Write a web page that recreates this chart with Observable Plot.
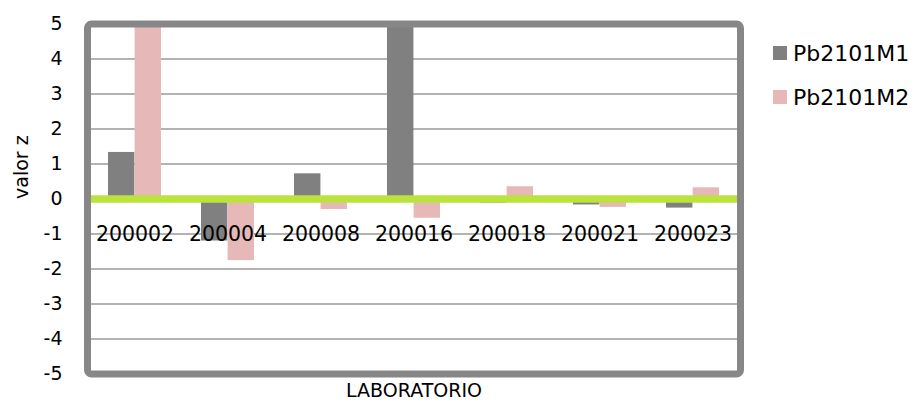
<!DOCTYPE html>
<html>
<head>
<meta charset="utf-8">
<script src="https://cdn.jsdelivr.net/npm/d3@7"></script>
<script src="https://cdn.jsdelivr.net/npm/@observablehq/plot@0.6"></script>
<style>
  html, body { margin: 0; padding: 0; background: #fff; }
  #wrap { position: relative; width: 914px; height: 402px; font-family: "DejaVu Sans", sans-serif; }
  #legend { position: absolute; left: 773px; top: 42px; font-size: 22px; color: #000; }
  #legend .row { display: flex; align-items: center; height: 22px; margin-bottom: 22px; }
  #legend .sw { width: 14px; height: 14px; margin-right: 6px; }
</style>
</head>
<body>
<div id="wrap">
  <div id="chart"></div>
  <div id="legend"></div>
</div>
<script>
const categories = ["200002", "200004", "200008", "200016", "200018", "200021", "200023"];
const seriesNames = ["Pb2101M1", "Pb2101M2"];
const m1Values = [1.33, -1.2, 0.72, 5, -0.12, -0.17, -0.26];
const m2Values = [5, -1.76, -0.3, -0.55, 0.35, -0.24, 0.32];
const yTicks = [-5, -4, -3, -2, -1, 0, 1, 2, 3, 4, 5];
const gridTicks = [-4, -3, -2, -1, 1, 2, 3, 4];
const categoryLabelY = -1;
const colors = ["#808080", "#e6b9b8"];

const m1 = categories.map((c, i) => ({cat: c, value: m1Values[i]}));
const m2 = categories.map((c, i) => ({cat: c, value: m2Values[i]}));

const W = 914, H = 402;
const mLeft = 87, mRight = 174, mTop = 23.5, mBottom = 28.5;
const pad = 0.43;
const step = (W - mLeft - mRight) / categories.length;
const band = step * (1 - pad);

const chart = Plot.plot({
  width: W,
  height: H,
  marginLeft: mLeft,
  marginRight: mRight,
  marginTop: mTop,
  marginBottom: mBottom,
  style: {fontFamily: "DejaVu Sans, sans-serif", color: "#000", background: "#fff", overflow: "visible"},
  x: {domain: categories, paddingInner: pad, paddingOuter: pad / 2, axis: null},
  y: {domain: [-5, 5], axis: null},
  marks: [
    Plot.gridY(gridTicks, {stroke: "#b3b3b3", strokeOpacity: 1, strokeWidth: 2}),
    Plot.barY(m1, {x: "cat", y: "value", fill: colors[0], insetRight: band / 2, insetLeft: 0, clip: true}),
    Plot.barY(m2, {x: "cat", y: "value", fill: colors[1], insetLeft: band / 2, insetRight: 0, clip: true}),
    Plot.ruleY([0], {stroke: "#bbe33d", strokeWidth: 7.5}),
    Plot.text(categories, {x: d => d, y: () => categoryLabelY, fontSize: 20.5, fill: "#000", textAnchor: "middle"}),
    Plot.frame({stroke: "#878787", strokeWidth: 7, rx: 4}),
    Plot.axisY(yTicks, {tickSize: 0, tickPadding: 25, fontSize: 19, textAnchor: "end", label: null, tickFormat: d => String(d)}),
    Plot.text(["valor z"], {frameAnchor: "left", dx: -66, rotate: -90, fontSize: 19, fill: "#000"}),
    Plot.text(["LABORATORIO"], {frameAnchor: "bottom", dy: 23, lineAnchor: "bottom", fontSize: 19, fill: "#000"})
  ]
});
document.getElementById("chart").appendChild(chart);

const legend = document.getElementById("legend");
seriesNames.forEach((name, i) => {
  const row = document.createElement("div");
  row.className = "row";
  const sw = document.createElement("div");
  sw.className = "sw";
  sw.style.background = colors[i];
  const label = document.createElement("span");
  label.textContent = name;
  row.appendChild(sw);
  row.appendChild(label);
  legend.appendChild(row);
});
</script>
</body>
</html>
